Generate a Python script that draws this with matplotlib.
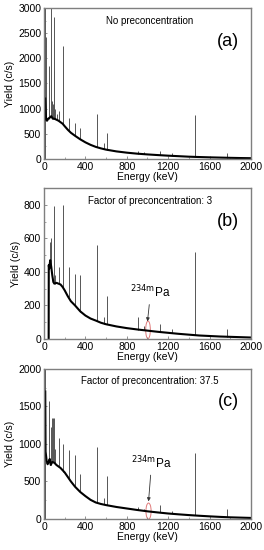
import matplotlib
matplotlib.use("Agg")
import matplotlib.pyplot as plt
from matplotlib.patches import Ellipse
from matplotlib.ticker import MultipleLocator

plt.rcParams['font.family'] = ['Liberation Sans', 'DejaVu Sans']

# ---- panel (a): no preconcentration ----
a_cont_e = [12, 20, 30, 40, 55, 70, 85, 100, 120, 140, 160, 180, 200, 230, 260, 300, 350, 400,
            450, 500, 550, 600, 700, 800, 900, 1000, 1100, 1200, 1300, 1400, 1500, 1600, 1700,
            1800, 1900, 2000]
a_cont_y = [1200, 780, 760, 800, 820, 850, 800, 800, 780, 760, 730, 700, 650, 580, 520, 460, 390, 330,
            280, 240, 210, 185, 150, 125, 105, 90, 77, 65, 55, 45, 38, 32, 27,
            22, 18, 15]
a_peak_e = [5, 9, 13, 22, 47, 63, 75, 88, 93, 98, 110, 130, 145, 186, 242, 295, 352, 511, 583, 609,
            911, 969, 1120, 1238, 1461, 1764]
a_peak_top = [3000, 3000, 3000, 2420, 1850, 3000, 1150, 1100, 2820, 1750, 1000, 900, 950, 2250, 820, 720,
              620, 890, 310, 510, 160, 130, 150, 110, 870, 120]
a_peak_base = [0, 0, 0, 780, 800, 850, 840, 800, 800, 800, 790, 770, 760, 690, 550, 460, 390, 240, 200, 185,
               105, 92, 77, 65, 45, 21]

# ---- panel (b): factor 3 ----
b_cont_e = [45, 46, 50, 60, 70, 80, 90, 100, 120, 140, 160, 180, 200, 230, 260, 300, 350, 400, 450,
            500, 550, 600, 700, 800, 900, 1000, 1100, 1200, 1300, 1400, 1500, 1600, 1700, 1800,
            1900, 2000]
b_cont_y = [0, 440, 420, 470, 430, 380, 340, 330, 335, 330, 325, 310, 290, 255, 225, 200, 165, 140, 122,
            110, 97, 88, 75, 65, 57, 50, 43, 37, 31, 26, 21, 18, 15, 13, 11, 9]
b_peak_e = [57, 63, 70, 93, 110, 145, 186, 242, 295, 352, 511, 583, 609, 911, 969, 1120, 1238, 1461, 1764]
b_peak_top = [580, 600, 560, 790, 380, 430, 800, 430, 390, 380, 560, 130, 255, 130, 80, 90, 60, 520, 60]
b_peak_base = [450, 470, 430, 340, 330, 330, 310, 250, 200, 160, 110, 92, 88, 55, 52, 42, 36, 26, 12]

# ---- panel (c): factor 37.5 ----
c_cont_e = [12, 15, 25, 35, 45, 55, 65, 80, 100, 120, 140, 160, 180, 200, 230, 260, 300, 350, 400,
            450, 500, 550, 600, 700, 800, 900, 1000, 1100, 1200, 1300, 1400, 1500, 1600, 1700,
            1800, 1900, 2000]
c_cont_y = [1700, 900, 780, 730, 760, 800, 720, 760, 750, 720, 700, 680, 650, 620, 560, 500, 430, 360, 305,
            255, 220, 200, 185, 160, 140, 120, 102, 87, 73, 62, 52, 43, 35, 28,
            22, 18, 14]
c_peak_e = [4, 8, 12, 47, 63, 75, 85, 93, 110, 145, 186, 242, 295, 352, 511, 583, 609, 911, 969, 1120,
            1238, 1461, 1764]
c_peak_top = [2000, 2000, 2000, 1570, 1230, 1350, 1350, 1350, 930, 1080, 1000, 920, 850, 600, 960, 280, 570,
              160, 130, 180, 110, 880, 130]
c_peak_base = [0, 0, 0, 760, 720, 760, 760, 755, 740, 700, 630, 540, 430, 360, 220, 200, 190, 118, 108, 88,
               75, 52, 25]

panels = [
    dict(ce=a_cont_e, cy=a_cont_y, pe=a_peak_e, pt=a_peak_top, pb=a_peak_base, ymax=3000, ymaj=500,
         title='No preconcentration', tag='(a)', rect=[0.1667, 0.711, 0.784, 0.2745], pa=None),
    dict(ce=b_cont_e, cy=b_cont_y, pe=b_peak_e, pt=b_peak_top, pb=b_peak_base, ymax=900, ymaj=200,
         title='Factor of preconcentration: 3', tag='(b)', rect=[0.1667, 0.3836, 0.784, 0.2745],
         pa=dict(txt=(1030, 230), tip=(1000, 105), ell=(1005, 55, 45, 105))),
    dict(ce=c_cont_e, cy=c_cont_y, pe=c_peak_e, pt=c_peak_top, pb=c_peak_base, ymax=2000, ymaj=500,
         title='Factor of preconcentration: 37.5', tag='(c)', rect=[0.1667, 0.0564, 0.784, 0.2727],
         pa=dict(txt=(1040, 640), tip=(1010, 235), ell=(1010, 105, 50, 215))),
]

fig = plt.figure(figsize=(2.64, 5.5), dpi=100)
frame = '#7f7f7f'

for p in panels:
    ax = fig.add_axes(p['rect'])
    ax.vlines(p['pe'], p['pb'], p['pt'], color='#555555', lw=0.7)
    ax.plot(p['ce'], p['cy'], color='black', lw=1.5)
    ax.set_xlim(0, 2000)
    ax.set_ylim(0, p['ymax'])
    ax.xaxis.set_major_locator(MultipleLocator(400))
    ax.xaxis.set_minor_locator(MultipleLocator(200))
    ax.yaxis.set_major_locator(MultipleLocator(p['ymaj']))
    ax.yaxis.set_minor_locator(MultipleLocator(p['ymaj'] / 2))
    ax.tick_params(which='both', direction='in', labelsize=7.5, color=frame, pad=2)
    ax.tick_params(which='major', length=2.5, width=0.6)
    ax.tick_params(which='minor', length=1.5, width=0.5)
    for s in ax.spines.values():
        s.set_color(frame)
        s.set_linewidth(1.0)
    ax.set_xlabel('Energy (keV)', fontsize=7.5, labelpad=0)
    ax.set_ylabel('Yield (c/s)', fontsize=7.5, labelpad=2)
    ax.text(0.51, 0.95, p['title'], transform=ax.transAxes, ha='center', va='top', fontsize=7)
    ax.text(0.89, 0.78, p['tag'], transform=ax.transAxes, ha='center', va='center', fontsize=13)
    if p['pa']:
        pa = p['pa']
        ax.annotate(r'$^{\mathrm{234m}}$Pa', xy=pa['tip'], xytext=pa['txt'], ha='center', va='bottom',
                    fontsize=8.5,
                    arrowprops=dict(arrowstyle='-|>', color='#333333', lw=0.6, mutation_scale=5,
                                    shrinkA=1, shrinkB=0))
        ex, ey, ew, eh = pa['ell']
        ax.add_patch(Ellipse((ex, ey), ew, eh, fill=False, edgecolor='#e07a7a', lw=0.7))

fig.savefig('out.png', dpi=100)
